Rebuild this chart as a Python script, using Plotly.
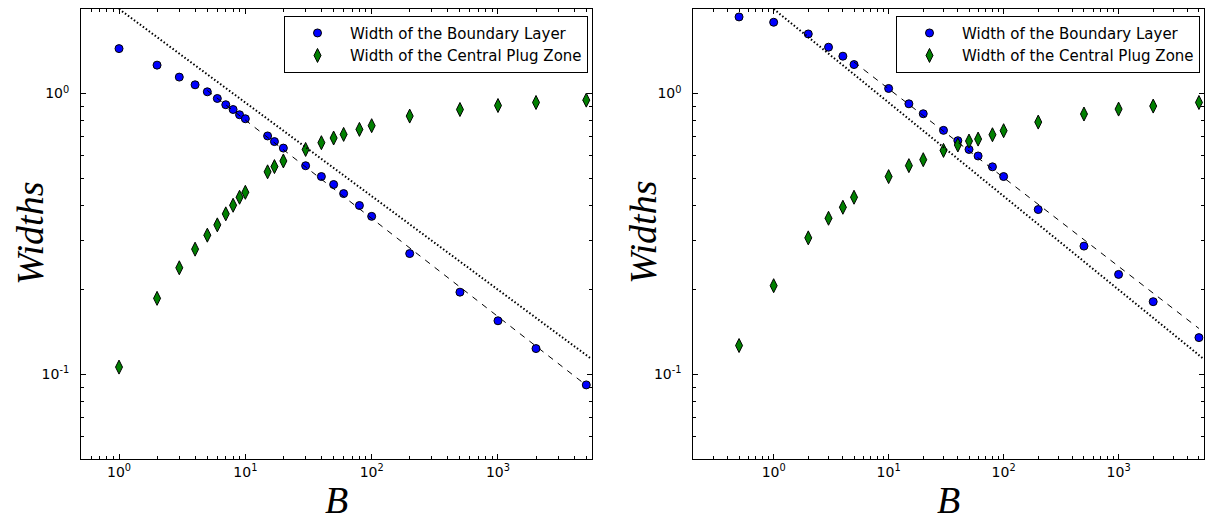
import plotly.graph_objects as go

# ---- left panel data ----
b_left = [1, 2, 3, 4, 5, 6, 7, 8, 9, 10, 15, 17, 20, 30, 40, 50, 60, 80, 100,
          200, 500, 1000, 2000, 5000]
boundary_left = [1.445, 1.262, 1.144, 1.074, 1.014, 0.960, 0.912, 0.877, 0.840,
                 0.813, 0.706, 0.674, 0.639, 0.553, 0.506, 0.474, 0.440, 0.399,
                 0.365, 0.269, 0.196, 0.155, 0.1234, 0.0916]
plug_left = [0.106, 0.1863, 0.2394, 0.2789, 0.3128, 0.3404, 0.3726, 0.3998,
             0.4270, 0.4446, 0.526, 0.549, 0.575, 0.632, 0.668, 0.694, 0.715,
             0.745, 0.768, 0.831, 0.877, 0.906, 0.929, 0.947]
dash_left_x = [5, 5000]
dash_left_y = [1.025, 0.0913]
dot_left_x = [1, 5500]
dot_left_y = [2.0, 0.1133]

# ---- right panel data ----
b_right = [0.5, 1, 2, 3, 4, 5, 10, 15, 20, 30, 40, 50, 60, 80, 100, 200, 500,
           1000, 2000, 5000]
boundary_right = [1.874, 1.794, 1.630, 1.462, 1.358, 1.268, 1.042, 0.919, 0.847,
                  0.739, 0.679, 0.632, 0.599, 0.548, 0.506, 0.386, 0.286,
                  0.2267, 0.1813, 0.135]
plug_right = [0.1265, 0.2067, 0.306, 0.3594, 0.3933, 0.427, 0.5057, 0.5534,
              0.581, 0.627, 0.6555, 0.677, 0.688, 0.713, 0.737, 0.791, 0.845,
              0.880, 0.902, 0.929]
dash_right_x = [5, 5000]
dash_right_y = [1.294, 0.1455]
dot_right_x = [1, 5500]
dot_right_y = [2.0, 0.1133]

# ---- ticks ----
x_major = [1, 10, 100, 1000]
x_major_text = ["10<sup>0</sup>", "10<sup>1</sup>", "10<sup>2</sup>", "10<sup>3</sup>"]
y_major = [0.1, 1]
y_major_text = ["10<sup>-1</sup>", "10<sup>0</sup>"]
x_minor_left = [0.5, 0.6, 0.7, 0.8, 0.9] + [m * 10 ** e for e in range(0, 4) for m in range(2, 10)]
x_minor_right = [0.2, 0.3, 0.4, 0.5, 0.6, 0.7, 0.8, 0.9] + [m * 10 ** e for e in range(0, 4) for m in range(2, 10)]
y_minor = [0.06, 0.07, 0.08, 0.09, 0.2, 0.3, 0.4, 0.5, 0.6, 0.7, 0.8, 0.9, 2]

BLUE = "#0000ff"
GREEN = "#008000"

fig = go.Figure()


def add_panel(xa, ya, leg, b, bl, pz, dx, dy, ox, oy):
    fig.add_trace(go.Scatter(
        x=b, y=bl, mode="markers", name="Width of the Boundary Layer",
        marker=dict(symbol="circle", size=8, color=BLUE,
                    line=dict(color="black", width=1)),
        xaxis=xa, yaxis=ya, legend=leg))
    fig.add_trace(go.Scatter(
        x=b, y=pz, mode="markers", name="Width of the Central Plug Zone",
        marker=dict(symbol="diamond-tall", size=10, color=GREEN,
                    line=dict(color="black", width=1)),
        xaxis=xa, yaxis=ya, legend=leg))
    fig.add_trace(go.Scatter(
        x=dx, y=dy, mode="lines", showlegend=False, hoverinfo="skip",
        line=dict(color="black", width=1, dash="6px,6px"),
        xaxis=xa, yaxis=ya))
    fig.add_trace(go.Scatter(
        x=ox, y=oy, mode="lines", showlegend=False, hoverinfo="skip",
        line=dict(color="black", width=2, dash="1.5px,2.2px"),
        xaxis=xa, yaxis=ya))


add_panel("x", "y", "legend", b_left, boundary_left, plug_left,
          dash_left_x, dash_left_y, dot_left_x, dot_left_y)
add_panel("x2", "y2", "legend2", b_right, boundary_right, plug_right,
          dash_right_x, dash_right_y, dot_right_x, dot_right_y)

W, H = 1208, 522
tick_font = dict(family="DejaVu Sans", size=14, color="black")
common = dict(type="log", showline=True, linecolor="black", linewidth=1,
              mirror="ticks", ticks="inside", ticklen=5, tickcolor="black",
              showgrid=False, zeroline=False, tickfont=tick_font)

x_dom_left = [81 / W, 591.5 / W]
x_dom_right = [693.3 / W, 1203.7 / W]
y_dom = [1 - 458.7 / H, 1 - 9 / H]

fig.update_layout(
    width=W, height=H,
    margin=dict(l=0, r=0, t=0, b=0),
    paper_bgcolor="white", plot_bgcolor="white",
    xaxis=dict(domain=x_dom_left, anchor="y",
               range=[-0.30103, 3.74036],
               tickvals=x_major, ticktext=x_major_text,
               minor=dict(ticks="inside", ticklen=2.5, tickcolor="black",
                          tickvals=x_minor_left, showgrid=False),
               **common),
    yaxis=dict(domain=y_dom, anchor="x",
               range=[-1.30103, 0.30103],
               tickvals=y_major, ticktext=y_major_text,
               minor=dict(ticks="inside", ticklen=2.5, tickcolor="black",
                          tickvals=y_minor, showgrid=False),
               ticklabelstandoff=8,
               **common),
    xaxis2=dict(domain=x_dom_right, anchor="y2",
                range=[-0.69897, 3.74036],
                tickvals=x_major, ticktext=x_major_text,
                minor=dict(ticks="inside", ticklen=2.5, tickcolor="black",
                           tickvals=x_minor_right, showgrid=False),
                **common),
    yaxis2=dict(domain=y_dom, anchor="x2",
                range=[-1.30103, 0.30103],
                tickvals=y_major, ticktext=y_major_text,
                minor=dict(ticks="inside", ticklen=2.5, tickcolor="black",
                           tickvals=y_minor, showgrid=False),
                ticklabelstandoff=8,
                **common),
    legend=dict(x=588 / W, y=1 - 15.7 / H, xanchor="right", yanchor="top",
                bordercolor="black", borderwidth=1, bgcolor="white",
                font=dict(family="DejaVu Sans", size=15, color="black"),
                itemwidth=55),
    legend2=dict(x=1200 / W, y=1 - 15.7 / H, xanchor="right", yanchor="top",
                 bordercolor="black", borderwidth=1, bgcolor="white",
                 font=dict(family="DejaVu Sans", size=15, color="black"),
                 itemwidth=55),
)

title_font = dict(family="Liberation Serif", size=38, color="black")
annotations = []
for cx, lx in [((x_dom_left[0] + x_dom_left[1]) / 2, 30 / W),
               ((x_dom_right[0] + x_dom_right[1]) / 2, 643 / W)]:
    annotations.append(dict(text="<i>B</i>", x=cx, y=1 - 500 / H,
                            xref="paper", yref="paper", showarrow=False,
                            xanchor="center", yanchor="middle", font=title_font))
    annotations.append(dict(text="<i>Widths</i>", x=lx, y=1 - 233 / H,
                            xref="paper", yref="paper", showarrow=False,
                            textangle=-90, xanchor="center", yanchor="middle",
                            font=title_font))
fig.update_layout(annotations=annotations)

fig.write_html("out.html")
